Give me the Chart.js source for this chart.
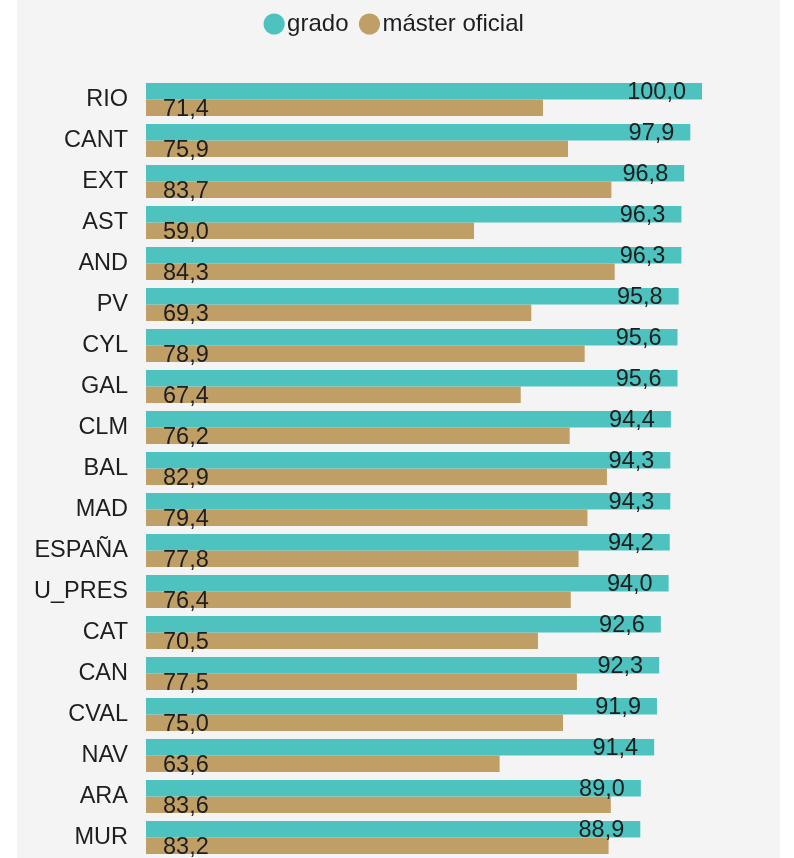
<!DOCTYPE html>
<html>
<head>
<meta charset="utf-8">
<script src="https://cdn.jsdelivr.net/npm/chart.js@4"></script>
<style>
html,body{margin:0;padding:0;background:#fff;}
#panel{position:absolute;left:17px;top:0;width:763px;height:858px;background:#f4f4f4;}
#panel canvas{display:block;}
</style>
</head>
<body>
<div id="panel"><canvas id="c" width="763" height="858"></canvas></div>
<script>
const categories = ["RIO","CANT","EXT","AST","AND","PV","CYL","GAL","CLM","BAL","MAD","ESPAÑA","U_PRES","CAT","CAN","CVAL","NAV","ARA","MUR"];
const grado = [100.0,97.9,96.8,96.3,96.3,95.8,95.6,95.6,94.4,94.3,94.3,94.2,94.0,92.6,92.3,91.9,91.4,89.0,88.9];
const master = [71.4,75.9,83.7,59.0,84.3,69.3,78.9,67.4,76.2,82.9,79.4,77.8,76.4,70.5,77.5,75.0,63.6,83.6,83.2];
const seriesNames = ["grado","máster oficial"];

const FONT = "'Liberation Sans', Arial, sans-serif";
const TEXT = "#1e1e1e";

const valueLabels = {
  id: 'valueLabels',
  afterDatasetsDraw(chart) {
    const ctx = chart.ctx;
    ctx.save();
    ctx.font = "23.5px " + FONT;
    ctx.fillStyle = TEXT;
    ctx.textBaseline = 'middle';
    chart.data.datasets.forEach((ds, di) => {
      const meta = chart.getDatasetMeta(di);
      meta.data.forEach((bar, i) => {
        const txt = ds.data[i].toFixed(1).replace('.', ',');
        if (di === 0) {
          ctx.textAlign = 'right';
          ctx.fillText(txt, bar.x - 16, bar.y + 1.5);
        } else {
          ctx.textAlign = 'left';
          ctx.fillText(txt, bar.base + 17, bar.y + 1.5);
        }
      });
    });
    ctx.restore();
  }
};

new Chart(document.getElementById('c'), {
  type: 'bar',
  data: {
    labels: categories,
    datasets: [
      {label: seriesNames[0], data: grado, backgroundColor: '#4ec2bf', borderWidth: 0},
      {label: seriesNames[1], data: master, backgroundColor: '#c09f67', borderWidth: 0}
    ]
  },
  options: {
    indexAxis: 'y',
    responsive: false,
    animation: false,
    devicePixelRatio: 1,
    categoryPercentage: 0.8,
    barPercentage: 1.0,
    layout: {padding: {left: 0, right: 0, top: -8, bottom: 0}},
    scales: {
      x: {display: false, min: 0, max: 114.03},
      y: {
        grid: {display: false, drawTicks: false},
        border: {display: false},
        ticks: {padding: 18, color: TEXT, font: {family: FONT, size: 23.5}},
        afterFit(scale) { scale.width = 129; scale.paddingTop = 0; scale.paddingBottom = 0; }
      }
    },
    plugins: {
      tooltip: {enabled: false},
      legend: {
        position: 'top',
        labels: {
          usePointStyle: true,
          pointStyle: 'circle',
          boxWidth: 2,
          boxHeight: 15,
          padding: 20,
          color: TEXT,
          font: {family: FONT, size: 24}
        }
      },
      subtitle: {
        display: true,
        text: '',
        weight: 500,
        padding: 0,
        font: {size: 10, lineHeight: 3.3}
      }
    }
  },
  plugins: [valueLabels]
});
</script>
</body>
</html>
